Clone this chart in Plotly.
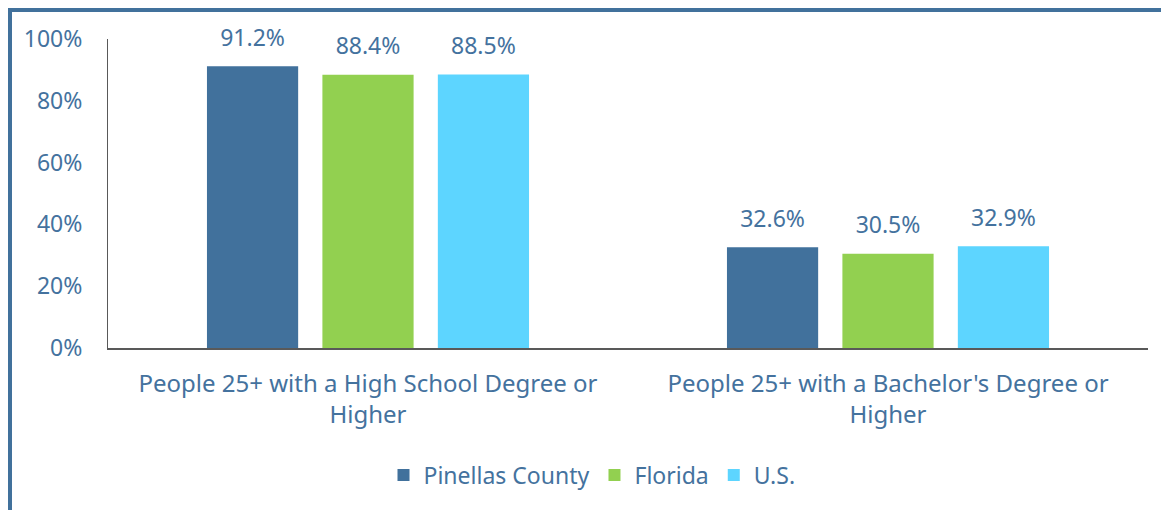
import plotly.graph_objects as go

categories = ["People 25+ with a High School Degree or<br>Higher",
              "People 25+ with a Bachelor's Degree or<br>Higher"]
series_names = ["Pinellas County", "Florida", "U.S."]
pinellas = [91.2, 32.6]
florida = [88.4, 30.5]
us = [88.5, 32.9]
colors = ["#41719C", "#92D050", "#5DD5FF"]
y_ticks = [0, 20, 40, 60, 80, 100]
y_tick_text = ["0%", "20%", "40%", "60%", "80%", "100%"]

TXT = "#44729E"
FONT = "Noto Sans"
BARGAP = 0.334

fig = go.Figure()
for name, vals, col in zip(series_names, [pinellas, florida, us], colors):
    fig.add_trace(go.Bar(
        x=categories, y=vals, name=name, marker=dict(color=col, line=dict(width=0)),
        offsetgroup=name, hoverinfo="x+y",
    ))
for name, vals in zip(series_names, [pinellas, florida, us]):
    fig.add_trace(go.Scatter(
        x=categories, y=vals, mode="markers+text", offsetgroup=name,
        marker=dict(size=22, opacity=0), showlegend=False, hoverinfo="skip",
        texttemplate="%{y:.1f}%", textposition="top center", cliponaxis=False,
        textfont=dict(color=TXT, size=23, family=FONT),
    ))

# page is offset by the default 8px body margin
W, H = 1161, 502
L, R, T, B = 100, 21, 31, 162
pw, ph = W - L - R, H - T - B

def px_x(p):
    return (p - L) / pw

def px_y(p):
    return (H - B - p) / ph

fig.update_layout(
    width=W, height=H,
    margin=dict(l=L, r=R, t=T, b=B),
    barmode="group", bargap=BARGAP, bargroupgap=0.21,
    scattermode="group", scattergap=BARGAP,
    plot_bgcolor="white", paper_bgcolor="white",
    font=dict(family=FONT, color=TXT, size=23),
    showlegend=True,
    legend=dict(orientation="h", x=px_x(584), xanchor="center", y=px_y(467), yanchor="middle",
                font=dict(size=23, color=TXT, family=FONT), itemwidth=30,
                traceorder="normal"),
    xaxis=dict(showline=True, linecolor="#595959", linewidth=2, ticks="",
               ticklabelstandoff=13, tickfont=dict(size=24, color=TXT)),
    yaxis=dict(range=[0, 100], tickvals=y_ticks, ticktext=y_tick_text, showgrid=False,
               zeroline=False, showline=True, linecolor="#595959", linewidth=1,
               ticks="", ticklabelstandoff=20, tickfont=dict(size=23, color=TXT)),
    shapes=[
        dict(type="line", xref="paper", yref="paper",
             x0=px_x(-3), x1=px_x(1170), y0=px_y(1), y1=px_y(1),
             line=dict(color="#41719C", width=6)),
        dict(type="line", xref="paper", yref="paper",
             x0=px_x(1), x1=px_x(1), y0=px_y(-2), y1=px_y(510),
             line=dict(color="#41719C", width=6)),
    ],
)

fig.write_html("out.html")
